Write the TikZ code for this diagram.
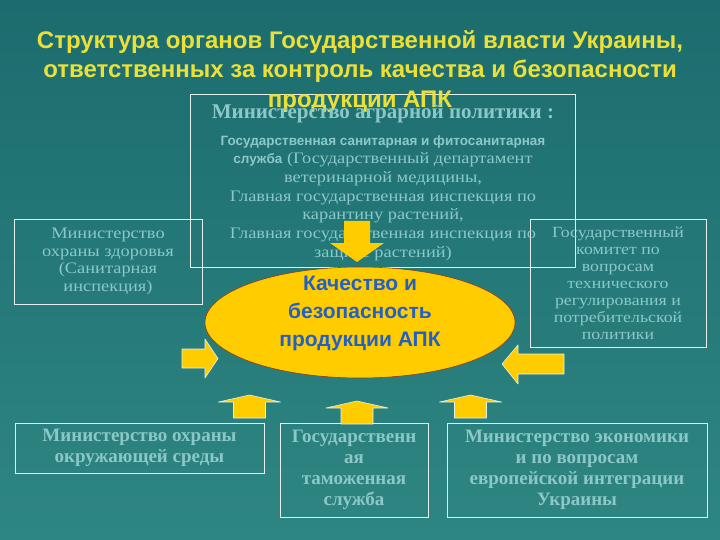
\documentclass[tikz,border=0pt]{standalone}
\usepackage{fontspec}
\setmainfont{Liberation Serif}
\setsansfont{Liberation Sans}
\newfontfamily\wideserif[FakeStretch=1.15]{Liberation Serif}
\usetikzlibrary{shapes.geometric}

\definecolor{seatop}{RGB}{28,108,110}
\definecolor{seabottom}{RGB}{46,134,130}
\definecolor{titleyellow}{RGB}{236,224,56}
\definecolor{apkyellow}{RGB}{255,204,0}
\definecolor{apkblue}{RGB}{36,96,196}
\definecolor{apkrim}{RGB}{150,60,20}
\definecolor{frameline}{RGB}{228,240,236}
\definecolor{labelwhite}{RGB}{140,200,200}
\newcommand{\fsize}[2]{\fontsize{#1}{#2}\selectfont}
% up block arrow, #1 = bottom centre of the shaft
\newcommand{\upblock}[1]{%
  \draw[blockarrow] (#1) ++(-16,0) -- ++(0,-16) -- ++(-15,0) -- ++(31,-7)
    -- ++(31,7) -- ++(-15,0) -- ++(0,16) -- cycle;}

\begin{document}
\begin{tikzpicture}[x=1pt, y=-1pt]
  \tikzset{
    organ/.style={draw=frameline, line width=0.7pt, inner sep=0pt, align=center, text=labelwhite},
    upperorgan/.style={organ, font=\wideserif\fsize{16}{17.5}},
    lowerorgan/.style={organ, font=\bfseries\fsize{19}{21}},
    blockarrow/.style={fill=apkyellow, draw=frameline, line width=0.6pt, line join=round},
  }
  \fill[top color=seatop, bottom color=seabottom] (0,0) rectangle (720,540);
  \useasboundingbox (0,0) rectangle (720,540);

  % ministries
  \node[organ, minimum width=385, minimum height=173] (agro) at (382.5,181) {};
  \node[upperorgan, minimum width=188, minimum height=85] (health) at (108,261.5)
    {Министерство\\охраны здоровья\\(Санитарная\\инспекция)};
  \node[upperorgan, minimum width=176, minimum height=128, font=\wideserif\fsize{15.5}{17}] (techreg) at (618,283)
    {Государственный\\комитет по\\вопросам\\технического\\регулирования и\\потребительской\\политики};
  \node[lowerorgan, minimum width=249, minimum height=50] (ecology) at (139.5,448)
    {Министерство охраны\\окружающей среды};
  \node[lowerorgan, minimum width=148, minimum height=94] (customs) at (354,470)
    {Государственн\\ая\\таможенная\\служба};
  \node[lowerorgan, minimum width=260, minimum height=94] (economy) at (577,470)
    {Министерство экономики\\и по вопросам\\европейской интеграции\\Украины};

  \node[text=titleyellow, font=\sffamily\bfseries\fsize{24}{29.5}, align=center] (title) at (360,71.5)
    {Структура органов Государственной власти Украины,\\ответственных за контроль качества и безопасности\\продукции АПК};

  \node[text=labelwhite, font=\bfseries\fsize{21}{24}] (agrohead) at (383,114) {Министерство аграрной политики :};
  \node[text=labelwhite, align=center, font=\wideserif\fsize{16}{18.7}] (agrobody) at (383,198)
    {{\sffamily\bfseries\fsize{13.5}{18.7}Государственная санитарная и фитосанитарная}\\
     {\sffamily\bfseries\fsize{13.5}{18.7}служба} (Государственный департамент\\
     ветеринарной медицины,\\
     Главная государственная инспекция по\\
     карантину растений,\\
     Главная государственная инспекция по\\
     защите растений)};

  % arrows into the centre
  \fill[apkyellow] (344,221) -- (370,221) -- (370,243) -- (384,243) -- (357,262)
    -- (330,243) -- (344,243) -- cycle;
  \node[ellipse, fill=apkyellow, draw=apkrim, line width=0.6pt, minimum width=310,
    minimum height=111, inner sep=0pt] (quality) at (360,322.5) {};
  \node[text=apkblue, font=\sffamily\bfseries\fsize{21}{28}, align=center] (qualitytext) at (360,313)
    {Качество и\\безопасность\\продукции АПК};
  \draw[blockarrow] (182,349) -- (205,349) -- (205,339) -- (218,358.5) -- (205,378)
    -- (205,368) -- (182,368) -- cycle;
  \draw[blockarrow] (564,354) -- (518,354) -- (518,345) -- (502,364) -- (518,384)
    -- (518,374) -- (564,374) -- cycle;
  \upblock{249.5,418}
  \upblock{357,424}
  \upblock{470.5,418}
\end{tikzpicture}
\end{document}
